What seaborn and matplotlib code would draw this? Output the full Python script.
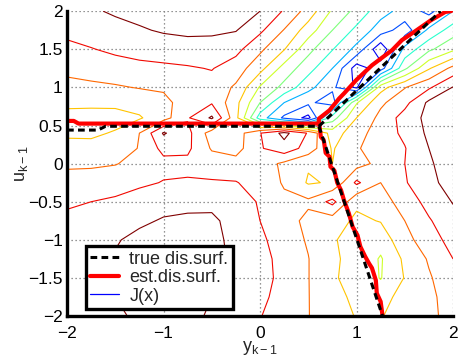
import numpy as np
import matplotlib
matplotlib.use("Agg")
import matplotlib.pyplot as plt
from matplotlib.lines import Line2D
import seaborn as sns

# ---------------- data ----------------
grid_x = [-2, -1.75, -1.5, -1.25, -1, -0.75, -0.5, -0.25, 0, 0.25, 0.5, 0.75, 1, 1.25, 1.5, 1.75, 2]
grid_y = [2.0, 1.75, 1.5, 1.25, 1.0, 0.8, 0.6, 0.4, 0.2, 0.0, -0.25, -0.5, -0.75, -1.0, -1.25, -1.5, -1.75, -2.0]

J_rows = [
    [10.7, 10.9, 11.1, 11.3, 11.4, 11.45, 11.4, 11.25, 11.0, 9.9, 8.6, 6.85, 5.7, 4.4, 3.6, 2.7, 4.0],
    [10.25, 10.5, 10.75, 10.9, 11.1, 11.2, 11.15, 11.05, 10.2, 8.95, 7.5, 6.0, 4.75, 3.5, 2.5, 4.2, 5.5],
    [9.75, 9.95, 10.2, 10.4, 10.5, 10.6, 10.65, 10.3, 9.2, 8.05, 6.3, 5.05, 3.7, 1.2, 4.3, 5.8, 6.8],
    [9.25, 9.4, 9.55, 9.7, 9.8, 9.9, 10.05, 9.5, 8.35, 6.6, 5.4, 4.0, 1.5, 2.5, 5.8, 7.9, 9.3],
    [8.7, 8.8, 8.9, 9.05, 9.15, 9.5, 9.6, 8.85, 6.9, 5.7, 4.3, 3.2, 1.8, 7.6, 8.95, 9.85, 11.05],
    [8.2, 8.2, 8.25, 8.4, 8.7, 9.5, 9.9, 8.3, 6.0, 4.0, 3.2, 2.5, 6.9, 8.8, 9.7, 11.2, 11.5],
    [7.7, 7.65, 7.6, 7.9, 8.6, 9.9, 11.15, 8.3, 4.5, 2.8, 1.7, 5.5, 8.0, 9.3, 10.4, 11.3, 11.5],
    [7.85, 7.8, 8.1, 9.0, 11.1, 10.3, 8.5, 8.5, 9.95, 11.3, 9.9, 7.5, 8.6, 9.5, 10.2, 11.2, 11.5],
    [8.3, 8.35, 8.5, 9.05, 10.3, 10.2, 8.9, 8.6, 9.9, 10.6, 9.6, 7.9, 8.9, 9.5, 9.95, 11.0, 11.5],
    [8.85, 8.85, 8.95, 9.3, 9.7, 9.75, 9.5, 9.4, 9.5, 8.8, 8.1, 8.0, 8.6, 9.3, 10.0, 10.9, 11.4],
    [9.35, 9.45, 9.6, 9.8, 10.05, 10.1, 10.1, 10.05, 9.6, 8.9, 7.9, 8.1, 10.2, 9.0, 9.9, 10.8, 11.3],
    [9.9, 10.0, 10.15, 10.5, 10.6, 10.7, 10.8, 10.5, 9.9, 9.2, 9.2, 10.3, 8.2, 8.6, 9.4, 10.35, 11.05],
    [10.15, 10.35, 10.55, 10.8, 11.1, 11.2, 11.15, 10.7, 10.0, 9.5, 8.7, 8.5, 7.8, 8.05, 9.0, 9.9, 10.7],
    [10.35, 10.55, 10.9, 11.3, 11.5, 11.5, 11.3, 10.7, 10.2, 9.5, 8.9, 8.1, 7.6, 7.4, 8.7, 9.5, 10.4],
    [10.5, 10.7, 11.1, 11.5, 11.6, 11.5, 11.3, 10.8, 10.4, 9.6, 9.03, 8.1, 7.8, 6.9, 8.2, 9.1, 10.0],
    [10.6, 10.8, 11.1, 11.4, 11.6, 11.5, 11.2, 10.8, 10.5, 9.6, 9.03, 8.1, 7.7, 6.95, 8.05, 8.9, 9.6],
    [10.65, 10.8, 11.0, 11.2, 11.3, 11.2, 11.0, 10.7, 10.3, 9.5, 9.03, 8.3, 7.8, 7.6, 8.4, 8.8, 9.4],
    [10.7, 10.85, 10.95, 11.05, 11.2, 11.1, 10.95, 10.6, 10.05, 9.4, 9.03, 8.4, 7.95, 7.9, 8.7, 8.8, 9.3],
]
J_levels = [1, 2, 3, 4, 5, 6, 7, 8, 9, 10, 11]

# true discontinuity surface (black dashed)
true_h_x = [-2.0, -1.68, -1.6, 0.61]
true_h_y = [0.44, 0.44, 0.49, 0.49]
true_d_x = [0.61, 1.87]
true_d_y = [0.49, 2.0]
true_v_x = [0.61, 1.27]
true_v_y = [0.49, -2.0]

# estimated discontinuity surface (red)
est_h_x = [-2.0, -1.93, -1.88, 0.61]
est_h_y = [0.56, 0.56, 0.525, 0.525]
est_d_x = [0.61, 0.61, 0.72, 0.82, 0.87, 1.0, 1.16, 1.37, 1.47, 1.6, 1.77, 1.92, 1.98]
est_d_y = [0.525, 0.59, 0.70, 0.855, 0.92, 1.1, 1.29, 1.49, 1.62, 1.73, 1.88, 1.99, 2.0]
est_v_x = [0.61, 0.63, 0.66, 0.68, 0.72, 0.73, 0.77, 0.80, 0.84, 0.87, 0.92, 0.96, 1.01, 1.04, 1.09, 1.13, 1.16, 1.20, 1.21, 1.25, 1.27]
est_v_y = [0.57, 0.35, 0.31, 0.14, 0.09, -0.04, -0.09, -0.25, -0.35, -0.48, -0.65, -0.83, -0.94, -1.09, -1.22, -1.31, -1.37, -1.53, -1.70, -1.81, -2.0]

x_ticks = [-2, -1, 0, 1, 2]
x_tick_labels = ["\u22122", "\u22121", "0", "1", "2"]
y_ticks = [-2, -1.5, -1, -0.5, 0, 0.5, 1, 1.5, 2]
y_tick_labels = ["\u22122", "\u22121.5", "\u22121", "\u22120.5", "0", "0.5", "1", "1.5", "2"]
legend_labels = ["true dis.surf.", "est.dis.surf.", "J(x)"]

# ---------------- style ----------------
sns.set_theme(style="white")
plt.rcParams["font.family"] = ["Liberation Sans", "DejaVu Sans"]
plt.rcParams["mathtext.fontset"] = "custom"
plt.rcParams["mathtext.rm"] = "Liberation Sans"
plt.rcParams["mathtext.it"] = "Liberation Sans"

fig = plt.figure(figsize=(4.59, 3.60), dpi=100)
ax = fig.add_axes([0.146, 0.122, 0.987 - 0.146, 0.969 - 0.122])

Xg, Yg = np.meshgrid(np.array(grid_x), np.array(grid_y))
Z = np.array(J_rows)
ax.contour(Xg, Yg, Z, levels=J_levels, cmap="jet",
           norm=plt.Normalize(min(J_levels), max(J_levels)),
           linewidths=0.8, zorder=1)

red_lw = 3.0
for xs, ys in [(est_h_x, est_h_y), (est_d_x, est_d_y), (est_v_x, est_v_y)]:
    sns.lineplot(x=xs, y=ys, ax=ax, sort=False, estimator=None,
                 color="#ff0000", linewidth=red_lw, zorder=3)

for xs, ys in [(true_h_x, true_h_y), (true_d_x, true_d_y), (true_v_x, true_v_y)]:
    sns.lineplot(x=xs, y=ys, ax=ax, sort=False, estimator=None,
                 color="black", linewidth=2.2, zorder=4)
    ax.lines[-1].set_linestyle((0, (2.2, 1.4)))

ax.set_xlim(-2, 2)
ax.set_ylim(-2, 2)
ax.set_xticks(x_ticks)
ax.set_xticklabels(x_tick_labels)
ax.set_yticks(y_ticks)
ax.set_yticklabels(y_tick_labels)
ax.tick_params(direction="in", length=3, width=2.2, labelsize=12.5, colors="black")
ax.tick_params(axis="x", pad=7)
ax.tick_params(axis="y", pad=3)

ax.grid(True, linestyle=(0, (1, 2.2)), color="0.45", linewidth=0.9)
ax.set_axisbelow(True)
for side in ["top", "right"]:
    ax.spines[side].set_visible(False)
for side in ["left", "bottom"]:
    ax.spines[side].set_linewidth(2.4)
    ax.spines[side].set_color("black")
    ax.spines[side].set_zorder(6)

ax.set_xlabel(r"y$_{\mathregular{k-1}}$", fontsize=13, labelpad=-1)
ax.set_ylabel(r"u$_{\mathregular{k-1}}$", fontsize=13, labelpad=-1)

handles = [
    Line2D([0], [0], color="black", linewidth=2.2, linestyle=(0, (2.2, 1.4))),
    Line2D([0], [0], color="#ff0000", linewidth=red_lw),
    Line2D([0], [0], color="#0000ff", linewidth=0.9),
]
leg = ax.legend(handles, legend_labels, loc="lower left",
                bbox_to_anchor=(0.049, 0.023), borderaxespad=0,
                fontsize=13, frameon=True, fancybox=False,
                handlelength=1.6, handletextpad=0.55, labelspacing=0.08,
                borderpad=0.25, framealpha=1)
leg.get_frame().set_edgecolor("black")
leg.get_frame().set_linewidth(2.4)
leg.set_zorder(10)

fig.savefig("out.png", dpi=100)
